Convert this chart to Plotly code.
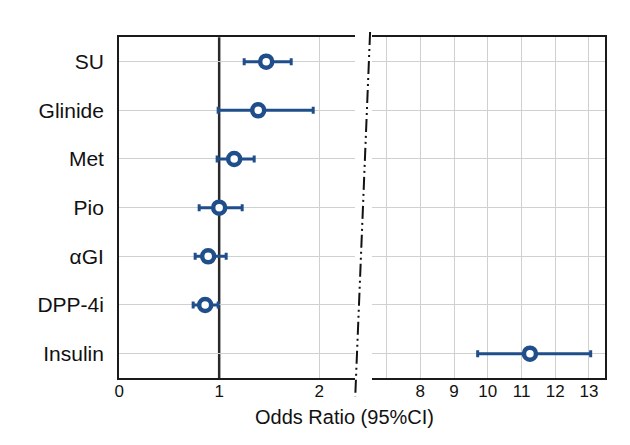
import plotly.graph_objects as go

# ---- data ----
drugs   = ["SU", "Glinide", "Met", "Pio", "αGI", "DPP-4i", "Insulin"]
odds    = [1.47, 1.39, 1.15, 1.00, 0.89, 0.86, 11.25]
ci_low  = [1.25, 0.99, 0.98, 0.80, 0.76, 0.74, 9.70]
ci_high = [1.72, 1.94, 1.35, 1.23, 1.07, 0.99, 13.05]
left_ticks  = [0, 1, 2]
left_grid   = [2]
right_ticks = [7, 8, 9, 10, 11, 12, 13]
right_labels = ["", "8", "9", "10", "11", "12", "13"]
ref_value = 1
break_at = 5  # values above this go into the right panel

OFFX, OFFY = 10, 8   # page offset in the browser
W, H = 630 - OFFX, 445 - OFFY
BLUE = "#1F4E8A"
GRID = "#d0d0d0"
AX = "#1a1a1a"
FONT = "Liberation Sans, Arial, sans-serif"

def px(x):
    return (x - OFFX) / W

def py(y):
    return 1 - (y - OFFY) / H

fig = go.Figure()

for side, axes in (("left", ("x", "y")), ("right", ("x2", "y2"))):
    idx = [i for i, v in enumerate(odds) if (v > break_at) == (side == "right")]
    fig.add_trace(go.Scatter(
        x=[odds[i] for i in idx],
        y=[drugs[i] for i in idx],
        xaxis=axes[0], yaxis=axes[1],
        mode="markers",
        marker=dict(symbol="circle", size=12, color="white",
                    line=dict(color=BLUE, width=4.5)),
        error_x=dict(type="data", symmetric=False,
                     array=[ci_high[i] - odds[i] for i in idx],
                     arrayminus=[odds[i] - ci_low[i] for i in idx],
                     color=BLUE, thickness=3, width=3.5),
        showlegend=False, hoverinfo="x+y",
    ))

ydom = [py(378), py(37.3)]

fig.update_layout(
    width=W, height=H,
    margin=dict(l=0, r=0, t=0, b=0),
    paper_bgcolor="white", plot_bgcolor="white",
    font=dict(family=FONT, color="#111"),
    xaxis=dict(domain=[px(117), px(355)], range=[0, 2.36],
               tickvals=left_ticks, ticktext=[str(t) for t in left_ticks],
               showgrid=False,
               minor=dict(tickvals=left_grid, showgrid=True, gridcolor=GRID,
                          gridwidth=1, ticks=""),
               zeroline=False, showline=True, linecolor=AX, linewidth=2,
               mirror=True, ticks="", tickfont=dict(size=17, family=FONT),
               ticklabelstandoff=-3, anchor="y"),
    yaxis=dict(domain=ydom, type="category", categoryorder="array",
               categoryarray=drugs, range=[6.5, -0.5],
               showgrid=True, gridcolor=GRID, gridwidth=1,
               zeroline=False, showline=True, linecolor=AX, linewidth=2,
               ticks="", tickfont=dict(size=21, family=FONT),
               ticklabelstandoff=9, anchor="x"),
    xaxis2=dict(domain=[px(372), px(607)], range=[6.57, 13.48],
                tickvals=right_ticks, ticktext=right_labels,
                showgrid=True, gridcolor=GRID, gridwidth=1,
                zeroline=False, showline=True, linecolor=AX, linewidth=2,
                mirror=True, ticks="", tickfont=dict(size=17, family=FONT),
                ticklabelstandoff=-3, anchor="y2"),
    yaxis2=dict(domain=ydom, type="category", categoryorder="array",
                categoryarray=drugs, range=[6.5, -0.5], matches="y",
                showgrid=True, gridcolor=GRID, gridwidth=1,
                zeroline=False, showline=True, linecolor=AX, linewidth=2,
                side="right", showticklabels=False, ticks="", anchor="x2"),
)

# reference line at OR = 1
fig.add_shape(type="line", xref="x", yref="y domain",
              x0=ref_value, x1=ref_value, y0=0, y1=1,
              line=dict(color="#2a2a2a", width=2.5), layer="below")

# axis break marker (slanted dash-dot-dot line)
fig.add_shape(type="line", xref="paper", yref="paper",
              x0=px(370), y0=py(32), x1=px(355), y1=py(397),
              line=dict(color="#111", width=2, dash="13px,4px,2px,4px,2px,4px"))

fig.add_annotation(text="Odds Ratio (95%CI)", xref="paper", yref="paper",
                   x=px(344), y=py(417), showarrow=False,
                   xanchor="center", yanchor="middle",
                   font=dict(size=20, family=FONT, color="#111"))

fig.write_html("out.html")
